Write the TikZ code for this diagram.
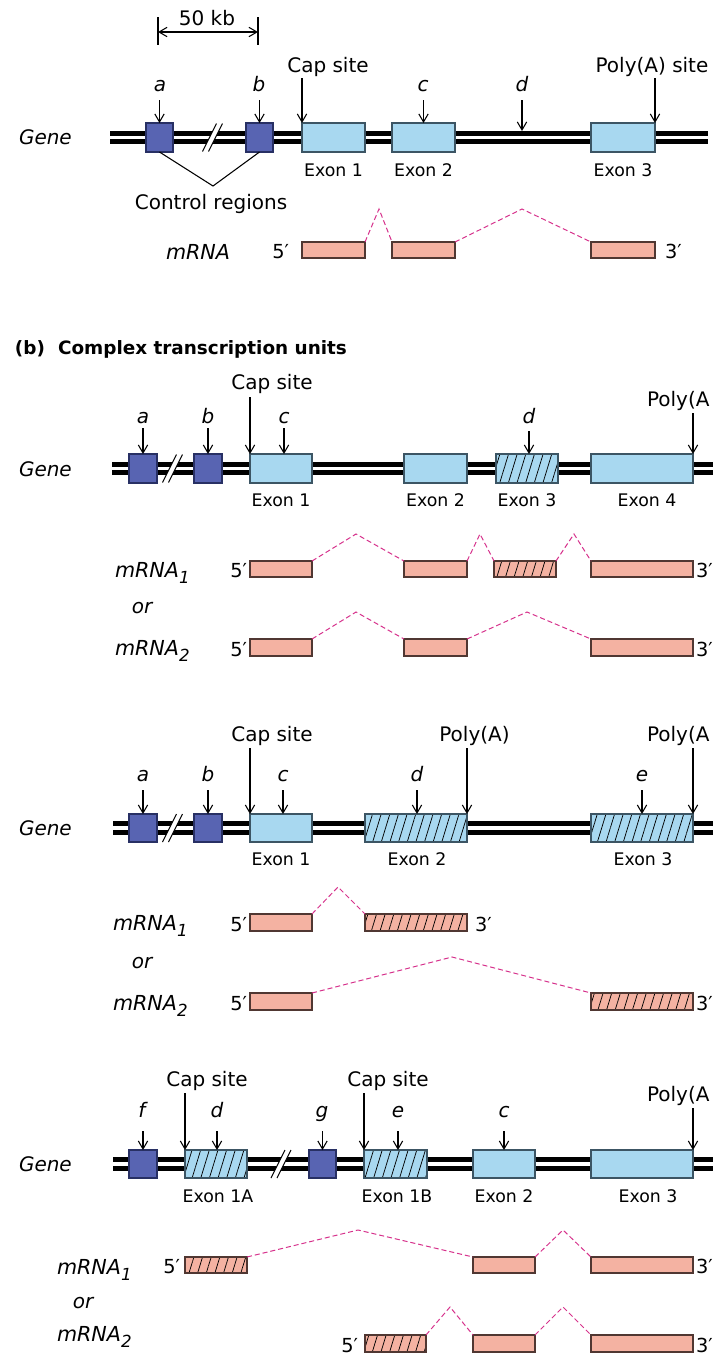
\documentclass[tikz,border=0pt]{standalone}
\usepackage{fontspec}
\setmainfont{DejaVu Sans}
\usetikzlibrary{arrows.meta,patterns.meta,fit,calc}
\definecolor{ctrlfill}{RGB}{88,100,178}
\definecolor{ctrldraw}{RGB}{40,48,100}
\definecolor{exonfill}{RGB}{168,216,240}
\definecolor{exondraw}{RGB}{60,85,100}
\definecolor{mrnafill}{RGB}{244,178,162}
\definecolor{mrnadraw}{RGB}{80,55,50}
\definecolor{splicecol}{RGB}{214,50,140}
\tikzset{
  every node/.style={inner sep=0pt, outer sep=0pt},
  txt/.style={font=\fontsize{15pt}{18pt}\selectfont},
  itx/.style={font=\fontsize{15pt}{18pt}\selectfont\itshape},
  rnatxt/.style={font=\fontsize{15.5pt}{18pt}\selectfont\itshape},
  exlbl/.style={font=\fontsize{13pt}{15pt}\selectfont},
  primetxt/.style={font=\fontsize{14.5pt}{16pt}\selectfont},
  headtxt/.style={font=\fontsize{13.8pt}{16pt}\selectfont\bfseries},
  geneline/.style={line width=3.6pt, black},
  ctrl/.style={draw=ctrldraw, fill=ctrlfill, line width=0.8pt},
  exon/.style={draw=exondraw, fill=exonfill, line width=0.8pt},
  exonh/.style={draw=exondraw, line width=0.8pt, preaction={fill=exonfill},
    pattern={Lines[angle=73,distance=6.2pt,line width=0.55pt]}, pattern color=black},
  rna/.style={draw=mrnadraw, fill=mrnafill, line width=0.8pt},
  rnah/.style={draw=mrnadraw, line width=0.8pt, preaction={fill=mrnafill},
    pattern={Lines[angle=73,distance=6.2pt,line width=0.55pt]}, pattern color=black},
  arr/.style={-{Straight Barb[length=6pt,width=7pt]}, line width=0.8pt},
  darr/.style={{Straight Barb[length=6pt,width=7pt]}-{Straight Barb[length=6pt,width=7pt]}, line width=0.8pt},
  thinl/.style={line width=0.8pt},
  splice/.style={draw=splicecol, dash pattern=on 3.8pt off 2.2pt, line width=0.75pt},
}
\newcommand{\mkbox}[6]{\node[#1, fit={(#3,#4) (#5,#6)}] (#2) {};}
\newcommand{\gline}[3]{%
  \draw[geneline] (#1,#3-4.2) -- (#2,#3-4.2);
  \draw[geneline] (#1,#3+4.2) -- (#2,#3+4.2);}
\newcommand{\gbreak}[2]{%
  \fill[white] (#1-10,#2+14) -- (#1+4,#2-14) -- (#1+10,#2-14) -- (#1-4,#2+14) -- cycle;
  \draw[thinl] (#1-10,#2+14) -- (#1+4,#2-14) (#1-4,#2+14) -- (#1+10,#2-14);}
\newcommand{\mrnasub}[1]{mRNA\raisebox{-0.33em}{\fontsize{12.5pt}{14pt}\selectfont #1}}
\begin{document}
\begin{tikzpicture}[x=0.75pt,y=-0.75pt]
\useasboundingbox (0,0) rectangle (713,1354);

% ================= (a) =================
\coordinate (sbL1) at (158,17); \coordinate (sbL2) at (158,45);
\coordinate (sbR1) at (258,17); \coordinate (sbR2) at (258,45);
\coordinate (sbA) at (158,32); \coordinate (sbB) at (258,32);
\draw[thinl] (sbL1) -- (sbL2);
\draw[thinl] (sbR1) -- (sbR2);
\draw[darr] (sbA) -- (sbB);
\node[txt, anchor=base] (kb) at (207,25) {50 kb};

\node[itx, anchor=base west] (aGene) at (19,144) {Gene};
\gline{110}{708}{137.5}
\gbreak{212.5}{137.5}
\mkbox{ctrl}{aA}{146}{123}{173}{152}
\mkbox{ctrl}{aB}{246}{123}{273}{152}
\mkbox{exon}{aE1}{302}{123}{365}{152}
\mkbox{exon}{aE2}{392}{123}{455}{152}
\mkbox{exon}{aE3}{591}{123}{655}{152}
\coordinate (aD) at (522,131);

\node[itx, anchor=base] (aLa) at (160,91) {a};
\node[itx, anchor=base] (aLb) at (259,91) {b};
\node[itx, anchor=base] (aLc) at (423,91) {c};
\node[itx, anchor=base] (aLd) at (522,91) {d};
\node[txt, anchor=base] (aCap) at (328,72.5) {Cap site};
\node[txt, anchor=base] (aPoly) at (652,72.5) {Poly(A) site};
\draw[arr] ($(aA.north)+(0,-23)$) -- (aA.north);
\draw[arr] ($(aB.north)+(0,-23)$) -- (aB.north);
\draw[arr] ($(aE2.north)+(0,-23)$) -- (aE2.north);
\draw[arr] ($(aD)+(0,-31)$) -- (aD);
\draw[arr] ($(aE1.north west)+(0,-45)$) -- (aE1.north west);
\draw[arr] ($(aE3.north east)+(0,-45)$) -- (aE3.north east);

\node[exlbl, anchor=base] (aX1) at ($(aE1.south)+(0,24)$) {Exon 1};
\node[exlbl, anchor=base] (aX2) at ($(aE2.south)+(0,24)$) {Exon 2};
\node[exlbl, anchor=base] (aX3) at ($(aE3.south)+(0,24)$) {Exon 3};

\coordinate (aCR) at (213,186);
\draw[thinl] (aA.south) -- (aCR) -- (aB.south);
\node[txt, anchor=base] (aCtl) at (211,209.5) {Control regions};

\mkbox{rna}{aM1}{302}{242}{365}{258}
\mkbox{rna}{aM2}{392}{242}{455}{258}
\mkbox{rna}{aM3}{591}{242}{655}{258}
\coordinate (aP1) at (379,209); \coordinate (aP2) at (522,209);
\draw[splice] (aM1.north east) -- (aP1) -- (aM2.north west);
\draw[splice] (aM2.north east) -- (aP2) -- (aM3.north west);
\node[rnatxt, anchor=base west] (aMl) at (166,259) {mRNA};
\node[primetxt, anchor=base east] (a5) at ($(aM1.south west)+(-13,0)$) {5′};
\node[primetxt, anchor=base west] (a3) at ($(aM3.south east)+(10,0)$) {3′};

% ================= (b) heading =================
\node[headtxt, anchor=base west] (hb) at (15,354) {(b)\hspace{5pt} Complex transcription units};

% ================= (b) unit 1 =================
\node[itx, anchor=base west] (bGene) at (19,476) {Gene};
\gline{112}{713}{468.5}
\gbreak{172.5}{468.5}
\mkbox{ctrl}{bA}{129}{454}{157}{483}
\mkbox{ctrl}{bB}{194}{454}{222}{483}
\mkbox{exon}{bE1}{250}{454}{312}{483}
\mkbox{exon}{bE2}{404}{454}{467}{483}
\mkbox{exonh}{bE3}{496}{454}{558}{483}
\mkbox{exon}{bE4}{591}{454}{693}{483}

\node[itx, anchor=base] (bLa) at (143,423) {a};
\node[itx, anchor=base] (bLb) at (208,423) {b};
\node[itx, anchor=base] (bLc) at (284,423) {c};
\node[itx, anchor=base] (bLd) at (529,423) {d};
\node[txt, anchor=base] (bCap) at (272,389) {Cap site};
\node[txt, anchor=base west] (bPoly) at (647,406) {Poly(A};
\draw[arr] ($(bA.north)+(0,-26)$) -- (bA.north);
\draw[arr] ($(bB.north)+(0,-26)$) -- (bB.north);
\draw[arr] ($(bE1.north)+(3,-26)$) -- ($(bE1.north)+(3,0)$);
\draw[arr] ($(bE3.north)+(2,-23)$) -- ($(bE3.north)+(2,0)$);
\draw[arr] ($(bE1.north west)+(0,-57)$) -- (bE1.north west);
\draw[arr] ($(bE4.north east)+(0,-41)$) -- (bE4.north east);

\node[exlbl, anchor=base] (bX1) at ($(bE1.south)+(0,23.5)$) {Exon 1};
\node[exlbl, anchor=base] (bX2) at ($(bE2.south)+(0,23.5)$) {Exon 2};
\node[exlbl, anchor=base] (bX3) at ($(bE3.south)+(0,23.5)$) {Exon 3};
\node[exlbl, anchor=base] (bX4) at ($(bE4.south)+(5,23.5)$) {Exon 4};

\mkbox{rna}{bM11}{250}{561}{312}{577}
\mkbox{rna}{bM12}{404}{561}{467}{577}
\mkbox{rnah}{bM13}{494}{561}{556}{577}
\mkbox{rna}{bM14}{591}{561}{693}{577}
\coordinate (bP11) at (356,534);
\coordinate (bP12) at (480,534);
\coordinate (bP13) at (574,534);
\draw[splice] (bM11.north east) -- (bP11) -- (bM12.north west);
\draw[splice] (bM12.north east) -- (bP12) -- (bM13.north west);
\draw[splice] (bM13.north east) -- (bP13) -- (bM14.north west);
\node[rnatxt, anchor=base west] (bR1) at (115,577) {\mrnasub{1}};
\node[primetxt, anchor=base east] (b15) at ($(bM11.south west)+(-3,0)$) {5′};
\node[primetxt, anchor=base west] (b13) at ($(bM14.south east)+(3,0)$) {3′};
\node[itx, anchor=base] (bOr) at (142,613) {or};

\mkbox{rna}{bM21}{250}{639}{312}{656}
\mkbox{rna}{bM22}{404}{639}{467}{656}
\mkbox{rna}{bM23}{591}{639}{693}{656}
\coordinate (bP21) at (356,612);
\coordinate (bP22) at (527,612);
\draw[splice] (bM21.north east) -- (bP21) -- (bM22.north west);
\draw[splice] (bM22.north east) -- (bP22) -- (bM23.north west);
\node[rnatxt, anchor=base west] (bR2) at (115,655) {\mrnasub{2}};
\node[primetxt, anchor=base east] (b25) at ($(bM21.south west)+(-3,0)$) {5′};
\node[primetxt, anchor=base west] (b23) at ($(bM23.south east)+(3,0)$) {3′};

% ================= (b) unit 2 =================
\node[itx, anchor=base west] (cGene) at (19,835) {Gene};
\gline{113}{713}{828}
\gbreak{172.5}{828}
\mkbox{ctrl}{cA}{129}{814}{157}{842}
\mkbox{ctrl}{cB}{194}{814}{222}{842}
\mkbox{exon}{cE1}{250}{814}{312}{842}
\mkbox{exonh}{cE2}{365}{814}{467}{842}
\mkbox{exonh}{cE3}{591}{814}{693}{842}

\node[itx, anchor=base] (cLa) at (143,781) {a};
\node[itx, anchor=base] (cLb) at (208,781) {b};
\node[itx, anchor=base] (cLc) at (283,781) {c};
\node[itx, anchor=base] (cLd) at (417,781) {d};
\node[itx, anchor=base] (cLe) at (642,781) {e};
\node[txt, anchor=base] (cCap) at (272,741) {Cap site};
\node[txt, anchor=base] (cPoly1) at (474.5,741) {Poly(A)};
\node[txt, anchor=base west] (cPoly2) at (647,741) {Poly(A};
\draw[arr] ($(cA.north)+(0,-24)$) -- (cA.north);
\draw[arr] ($(cB.north)+(0,-24)$) -- (cB.north);
\draw[arr] ($(cE1.north)+(2,-24)$) -- ($(cE1.north)+(2,0)$);
\draw[arr] ($(cE2.north)+(1,-24)$) -- ($(cE2.north)+(1,0)$);
\draw[arr] ($(cE3.north)+(0,-24)$) -- (cE3.north);
\draw[arr] ($(cE1.north west)+(0,-66)$) -- (cE1.north west);
\draw[arr] ($(cE2.north east)+(0,-66)$) -- (cE2.north east);
\draw[arr] ($(cE3.north east)+(0,-66)$) -- (cE3.north east);

\node[exlbl, anchor=base] (cX1) at ($(cE1.south)+(0,23)$) {Exon 1};
\node[exlbl, anchor=base] (cX2) at ($(cE2.south)+(1,23)$) {Exon 2};
\node[exlbl, anchor=base] (cX3) at ($(cE3.south)+(1,23)$) {Exon 3};

\mkbox{rna}{cM11}{250}{914}{312}{931}
\mkbox{rnah}{cM12}{365}{914}{467}{931}
\coordinate (cP11) at (338,887);
\draw[splice] (cM11.north east) -- (cP11) -- (cM12.north west);
\node[rnatxt, anchor=base west] (cR1) at (113,930) {\mrnasub{1}};
\node[primetxt, anchor=base east] (c15) at ($(cM11.south west)+(-3,0)$) {5′};
\node[primetxt, anchor=base west] (c13) at ($(cM12.south east)+(8,0)$) {3′};
\node[itx, anchor=base] (cOr) at (142,968) {or};

\mkbox{rna}{cM21}{250}{993}{312}{1010}
\mkbox{rnah}{cM22}{591}{993}{693}{1010}
\coordinate (cP21) at (452,957);
\draw[splice] (cM21.north east) -- (cP21) -- (cM22.north west);
\node[rnatxt, anchor=base west] (cR2) at (113,1010) {\mrnasub{2}};
\node[primetxt, anchor=base east] (c25) at ($(cM21.south west)+(-3,0)$) {5′};
\node[primetxt, anchor=base west] (c23) at ($(cM22.south east)+(3,0)$) {3′};

% ================= (b) unit 3 =================
\node[itx, anchor=base west] (dGene) at (19,1171) {Gene};
\gline{113}{713}{1164}
\gbreak{281}{1164}
\mkbox{ctrl}{dF}{129}{1150}{157}{1178}
\mkbox{exonh}{dE1A}{185}{1150}{247}{1178}
\mkbox{ctrl}{dG}{309}{1150}{336}{1178}
\mkbox{exonh}{dE1B}{364}{1150}{427}{1178}
\mkbox{exon}{dE2}{473}{1150}{535}{1178}
\mkbox{exon}{dE3}{591}{1150}{693}{1178}

\node[itx, anchor=base] (dLf) at (142,1117) {f};
\node[itx, anchor=base] (dLd) at (217,1117) {d};
\node[itx, anchor=base] (dLg) at (322,1117) {g};
\node[itx, anchor=base] (dLe) at (398,1117) {e};
\node[itx, anchor=base] (dLc) at (504,1117) {c};
\node[txt, anchor=base] (dCap1) at (207,1086) {Cap site};
\node[txt, anchor=base] (dCap2) at (388,1086) {Cap site};
\node[txt, anchor=base west] (dPoly) at (647,1101) {Poly(A};
\draw[arr] ($(dF.north)+(0,-19)$) -- (dF.north);
\draw[arr] ($(dE1A.north)+(1,-19)$) -- ($(dE1A.north)+(1,0)$);
\draw[arr] ($(dG.north)+(0,-19)$) -- (dG.north);
\draw[arr] ($(dE1B.north)+(2.5,-19)$) -- ($(dE1B.north)+(2.5,0)$);
\draw[arr] ($(dE2.north)+(0,-19)$) -- (dE2.north);
\draw[arr] ($(dE1A.north west)+(0,-57)$) -- (dE1A.north west);
\draw[arr] ($(dE1B.north west)+(0,-57)$) -- (dE1B.north west);
\draw[arr] ($(dE3.north east)+(0,-42)$) -- (dE3.north east);

\node[exlbl, anchor=base] (dX1A) at ($(dE1A.south)+(2,24)$) {Exon 1A};
\node[exlbl, anchor=base] (dX1B) at ($(dE1B.south)+(1.5,24)$) {Exon 1B};
\node[exlbl, anchor=base] (dX2) at ($(dE2.south)+(0,24)$) {Exon 2};
\node[exlbl, anchor=base] (dX3) at ($(dE3.south)+(6,24)$) {Exon 3};

\mkbox{rnah}{dM11}{185}{1257}{247}{1273}
\mkbox{rna}{dM12}{473}{1257}{535}{1273}
\mkbox{rna}{dM13}{591}{1257}{693}{1273}
\coordinate (dP11) at (358,1230);
\coordinate (dP12) at (563,1230);
\draw[splice] (dM11.north east) -- (dP11) -- (dM12.north west);
\draw[splice] (dM12.north east) -- (dP12) -- (dM13.north west);
\node[rnatxt, anchor=base west] (dR1) at (57,1274) {\mrnasub{1}};
\node[primetxt, anchor=base east] (d15) at ($(dM11.south west)+(-5,0)$) {5′};
\node[primetxt, anchor=base west] (d13) at ($(dM13.south east)+(3,0)$) {3′};
\node[itx, anchor=base] (dOr) at (83,1308) {or};

\mkbox{rnah}{dM21}{365}{1335}{426}{1352}
\mkbox{rna}{dM22}{473}{1335}{535}{1352}
\mkbox{rna}{dM23}{591}{1335}{693}{1352}
\coordinate (dP21) at (450,1307);
\coordinate (dP22) at (563,1307);
\draw[splice] (dM21.north east) -- (dP21) -- (dM22.north west);
\draw[splice] (dM22.north east) -- (dP22) -- (dM23.north west);
\node[rnatxt, anchor=base west] (dR2) at (57,1341) {\mrnasub{2}};
\node[primetxt, anchor=base east] (d25) at ($(dM21.south west)+(-7,0)$) {5′};
\node[primetxt, anchor=base west] (d23) at ($(dM23.south east)+(3,0)$) {3′};
\end{tikzpicture}
\end{document}
